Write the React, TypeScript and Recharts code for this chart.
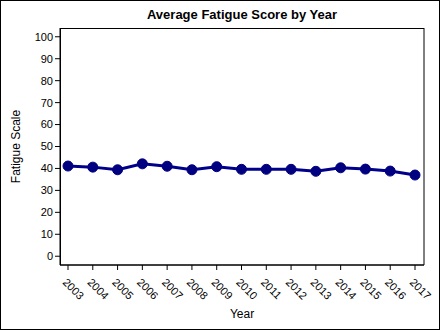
import React from "react";
import { LineChart, Line, XAxis, YAxis, CartesianGrid } from "recharts";

const years = ["2003","2004","2005","2006","2007","2008","2009","2010","2011","2012","2013","2014","2015","2016","2017"];
const scores = [41.1, 40.6, 39.4, 42.1, 41.0, 39.4, 40.8, 39.6, 39.6, 39.6, 38.7, 40.3, 39.7, 38.8, 37.0];
const yTicks = [0, 10, 20, 30, 40, 50, 60, 70, 80, 90, 100];

const data = years.map((y, i) => ({ year: y, score: scores[i] }));

const FONT = "'Liberation Sans', Arial, sans-serif";

const XTick = (props: any) => {
  const { x, y, payload } = props;
  return (
    <g transform={`translate(${x},${y})`}>
      <text x={0} y={0} transform="translate(-6,11) rotate(45)" textAnchor="start" fontSize={11} fill="#000" fontFamily={FONT}>
        {payload.value}
      </text>
    </g>
  );
};

export default function App() {
  return (
    <div style={{ position: "absolute", top: 0, left: 0, width: 440, height: 330, background: "#fff" }}>
      <div style={{ position: "absolute", top: 7, left: 60, width: 364, textAlign: "center", fontFamily: FONT, fontWeight: "bold", fontSize: 13, color: "#000" }}>
        Average Fatigue Score by Year
      </div>
      <LineChart width={440} height={330} data={data} margin={{ top: 28, right: 16, bottom: 0, left: 0 }} style={{ position: "absolute", top: 0, left: 0 }}>
        <CartesianGrid horizontalPoints={[28.5, 265]} verticalPoints={[60.5, 424]} stroke="#000" strokeWidth={1} />
        <XAxis
          dataKey="year"
          type="category"
          height={65}
          padding={{ left: 8, right: 9 }}
          interval={0}
          tick={<XTick />}
          tickSize={5}
          tickLine={{ stroke: "#000" }}
          axisLine={{ stroke: "#000" }}
          label={{ value: "Year", position: "insideBottom", offset: 12, fontSize: 12, fill: "#000", fontFamily: FONT }}
        />
        <YAxis
          domain={[-4, 104]}
          ticks={yTicks}
          width={60}
          interval={0}
          tickSize={5}
          tickLine={{ stroke: "#000" }}
          axisLine={{ stroke: "#000" }}
          tick={{ fontSize: 11, fill: "#000", fontFamily: FONT }}
          label={{ value: "Fatigue Scale", angle: -90, position: "insideLeft", offset: 16, style: { textAnchor: "middle" }, fontSize: 12, fill: "#000", fontFamily: FONT }}
        />
        <Line
          dataKey="score"
          stroke="#00008b"
          strokeWidth={3}
          dot={{ r: 5, fill: "#000080", stroke: "#000080", strokeWidth: 1 }}
          isAnimationActive={false}
        />
      </LineChart>
      <div style={{ position: "absolute", top: 0, left: 0, width: 440, height: 330, boxSizing: "border-box", border: "1px solid #000", pointerEvents: "none" }} />
    </div>
  );
}
